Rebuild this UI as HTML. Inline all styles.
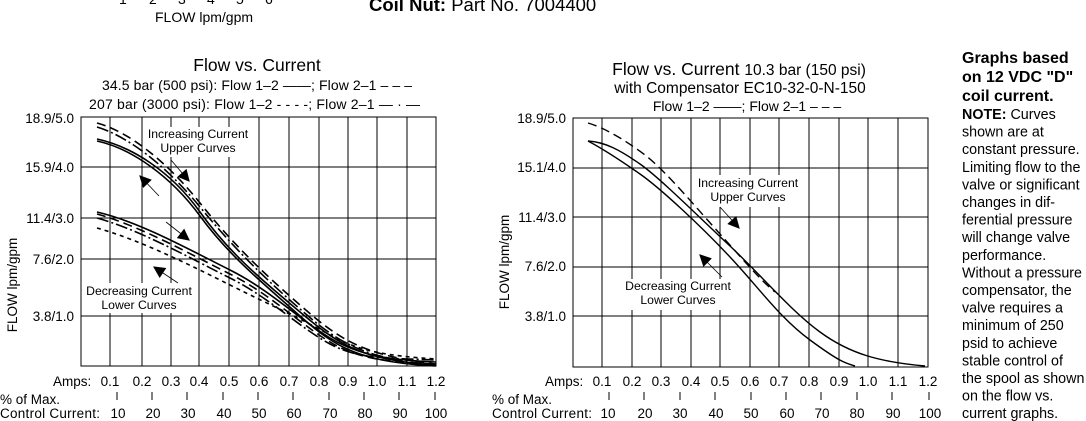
<!DOCTYPE html>
<html><head><meta charset="utf-8"><style>
html,body{margin:0;padding:0;background:#fff;}
svg{display:block;font-family:"Liberation Sans",sans-serif;}
</style></head><body>
<svg width="1086" height="421" viewBox="0 0 1086 421" xmlns="http://www.w3.org/2000/svg">
<defs>
<marker id="ah" viewBox="0 0 10 10" refX="9" refY="5" markerWidth="14" markerHeight="12" markerUnits="userSpaceOnUse" orient="auto"><path d="M0,0L10,5L0,10z" fill="#000"/></marker>
</defs>
<!-- top fragments -->
<g font-size="14" fill="#000">
<text x="119" y="4">1</text><text x="149" y="4">2</text><text x="178" y="4">3</text><text x="207" y="4">4</text><text x="236" y="4">5</text><text x="265" y="4">6</text>
<text x="155" y="22">FLOW lpm/gpm</text>
<text x="369" y="11" font-size="18.5"><tspan font-weight="bold">Coil Nut:</tspan> Part No. 7004400</text>
</g>

<!-- LEFT CHART -->
<g font-size="13.5" fill="#000">
<text x="257" y="71" font-size="17.5" text-anchor="middle">Flow vs. Current</text>
<text x="102" y="90" font-size="14" textLength="310">34.5 bar (500 psi): Flow 1–2 ——; Flow 2–1 – – –</text>
<text x="89" y="109" font-size="14" textLength="331">207 bar (3000 psi): Flow 1–2 - - - -; Flow 2–1 — · —</text>
<g text-anchor="end"><text x="74" y="123">18.9/5.0</text><text x="74" y="172">15.9/4.0</text><text x="74" y="223">11.4/3.0</text><text x="74" y="264">7.6/2.0</text><text x="74" y="321">3.8/1.0</text></g>
<text transform="translate(17,285) rotate(-90)" text-anchor="middle">FLOW lpm/gpm</text>
</g>
<g stroke="#000" stroke-width="1" fill="none">
<rect x="81" y="117" width="355" height="249"/>
<path d="M110 117V366M142 117V366M171 117V366M199 117V366M229 117V366M259 117V366M289 117V366M319 117V366M348 117V366M377 117V366M407 117V366"/>
<path d="M81 167H436M81 218H436M81 259H436M81 316H436"/>
</g>
<rect x="144" y="127" width="108" height="30" fill="#fff"/>
<rect x="84" y="283" width="112" height="30" fill="#fff"/>
<g font-size="12.2" text-anchor="middle" fill="#000">
<text x="198" y="138">Increasing Current</text><text x="198" y="152">Upper Curves</text>
<text x="139" y="295">Decreasing Current</text><text x="139" y="309">Lower Curves</text>
</g>
<g fill="none" stroke="#000" stroke-width="1.6">
<path d="M97,139 C130,146 170,170 200,212 S262,280 300,312 S360,360 436,365"/>
<path d="M97,141 C130,148 170,175 200,216 S264,284 300,316 S360,362 436,366"/>
<path d="M97,123 C130,132 168,163 200,203 S262,272 300,305 S360,355 436,364" stroke-dasharray="9,5"/>
<path d="M97,127 C130,137 168,168 200,207 S262,276 300,309 S360,358 436,365" stroke-dasharray="12,3,2,3"/>
<path d="M97,212 C140,222 190,250 230,270 S300,320 330,338 S390,360 436,362" />
<path d="M97,214 C140,226 190,254 230,274 S300,324 330,342 S390,362 436,364" stroke-dasharray="9,5"/>
<path d="M97,218 C140,230 190,258 230,278 S300,328 330,344 S390,358 436,360" stroke-dasharray="12,3,2,3"/>
<path d="M97,228 C140,240 190,265 230,285 S300,318 330,335 S390,356 436,359" stroke-dasharray="4,4"/>
</g>
<g stroke="#000" stroke-width="0.8" marker-end="url(#ah)">
<line x1="171" y1="160" x2="189" y2="181"/>
<line x1="159" y1="196" x2="140" y2="176"/>
<line x1="166" y1="222" x2="189" y2="240"/>
<line x1="178" y1="283" x2="154" y2="267"/>
</g>
<g font-size="13.5" fill="#000">
<text x="53" y="386">Amps:</text>
<g text-anchor="middle"><text x="110" y="386">0.1</text><text x="142" y="386">0.2</text><text x="171" y="386">0.3</text><text x="199" y="386">0.4</text><text x="229" y="386">0.5</text><text x="259" y="386">0.6</text><text x="289" y="386">0.7</text><text x="319" y="386">0.8</text><text x="348" y="386">0.9</text><text x="377" y="386">1.0</text><text x="407" y="386">1.1</text><text x="436" y="386">1.2</text></g>
<text x="0" y="404">% of Max.</text><text x="0" y="418" textLength="100">Control Current:</text>
<g text-anchor="middle"><text x="118" y="418">10</text><text x="153" y="418">20</text><text x="188" y="418">30</text><text x="224" y="418">40</text><text x="259" y="418">50</text><text x="294" y="418">60</text><text x="330" y="418">70</text><text x="365" y="418">80</text><text x="400" y="418">90</text><text x="436" y="418">100</text></g>
</g>
<g stroke="#000" stroke-width="1"><path d="M117 392V400M152 392V400M187 392V400M223 392V400M258 392V400M293 392V400M329 392V400M364 392V400M399 392V400M435 392V400"/></g>

<!-- RIGHT CHART -->
<g font-size="13.5" fill="#000">
<text x="739" y="75" font-size="17.5" text-anchor="middle">Flow vs. Current <tspan font-size="15.5">10.3 bar (150 psi)</tspan></text>
<text x="740" y="93" font-size="15.5" text-anchor="middle">with Compensator EC10-32-0-N-150</text>
<text x="747" y="111" text-anchor="middle" font-size="14">Flow 1–2 ——; Flow 2–1 – – –</text>
<g text-anchor="end"><text x="566" y="123">18.9/5.0</text><text x="566" y="172">15.1/4.0</text><text x="566" y="222">11.4/3.0</text><text x="566" y="271">7.6/2.0</text><text x="566" y="321">3.8/1.0</text></g>
<text transform="translate(509,262) rotate(-90)" text-anchor="middle">FLOW lpm/gpm</text>
</g>
<g stroke="#000" stroke-width="1" fill="none">
<rect x="573" y="118" width="355" height="249"/>
<path d="M602 118V367M632 118V367M661 118V367M691 118V367M720 118V367M750 118V367M779 118V367M809 118V367M839 118V367M868 118V367M898 118V367"/>
<path d="M573 168H928M573 217H928M573 267H928M573 316H928"/>
</g>
<rect x="695" y="175" width="108" height="32" fill="#fff"/>
<rect x="621" y="279" width="114" height="31" fill="#fff"/>
<g font-size="12.2" text-anchor="middle" fill="#000">
<text x="748" y="187">Increasing Current</text><text x="748" y="201">Upper Curves</text>
<text x="678" y="290">Decreasing Current</text><text x="678" y="304">Lower Curves</text>
</g>
<g fill="none" stroke="#000" stroke-width="1.4">
<path d="M588,141 C605,142 620,150 640,164 S700,218 730,246 S790,310 820,332 S880,362 925,366"/>
<path d="M588,141 C605,150 620,160 640,174 S700,225 730,257 S780,318 810,340 S845,363 855,366"/>
<path d="M588,123 C605,128 625,140 645,155 S700,212 720,234 S760,280 775,292" stroke-dasharray="9,5"/>
</g>
<g stroke="#000" stroke-width="0.8" marker-end="url(#ah)">
<line x1="720" y1="207" x2="739" y2="228"/>
<line x1="722" y1="277" x2="700" y2="255"/>
</g>
<g font-size="13.5" fill="#000">
<text x="545" y="386">Amps:</text>
<g text-anchor="middle"><text x="602" y="386">0.1</text><text x="632" y="386">0.2</text><text x="661" y="386">0.3</text><text x="691" y="386">0.4</text><text x="720" y="386">0.5</text><text x="750" y="386">0.6</text><text x="779" y="386">0.7</text><text x="809" y="386">0.8</text><text x="839" y="386">0.9</text><text x="868" y="386">1.0</text><text x="898" y="386">1.1</text><text x="928" y="386">1.2</text></g>
<text x="492" y="404">% of Max.</text><text x="492" y="418" textLength="100">Control Current:</text>
<g text-anchor="middle"><text x="608" y="418">10</text><text x="645" y="418">20</text><text x="680" y="418">30</text><text x="716" y="418">40</text><text x="751" y="418">50</text><text x="787" y="418">60</text><text x="822" y="418">70</text><text x="857" y="418">80</text><text x="893" y="418">90</text><text x="930" y="418">100</text></g>
</g>
<g stroke="#000" stroke-width="1"><path d="M609 392V400M644 392V400M680 392V400M715 392V400M751 392V400M786 392V400M821 392V400M857 392V400M892 392V400M929 392V400"/></g>

<!-- NOTE column -->
<g fill="#000">
<g font-size="16" font-weight="bold"><text x="962" y="63">Graphs based</text><text x="962" y="82">on 12 VDC "D"</text><text x="962" y="101">coil current.</text></g>
<g font-size="14.3">
<text x="962" y="119"><tspan font-weight="bold">NOTE:</tspan> Curves</text>
<text x="962" y="136.6">shown are at</text>
<text x="962" y="154.2">constant pressure.</text>
<text x="962" y="171.8">Limiting flow to the</text>
<text x="962" y="189.4">valve or significant</text>
<text x="962" y="207">changes in dif-</text>
<text x="962" y="224.6">ferential pressure</text>
<text x="962" y="242.2">will change valve</text>
<text x="962" y="259.8">performance.</text>
<text x="962" y="277.4">Without a pressure</text>
<text x="962" y="295">compensator, the</text>
<text x="962" y="312.6">valve requires a</text>
<text x="962" y="330.2">minimum of 250</text>
<text x="962" y="347.8">psid to achieve</text>
<text x="962" y="365.4">stable control of</text>
<text x="962" y="383">the spool as shown</text>
<text x="962" y="400.6">on the flow vs.</text>
<text x="962" y="418.2">current graphs.</text>
</g>
</g>
</svg>
</body></html>
